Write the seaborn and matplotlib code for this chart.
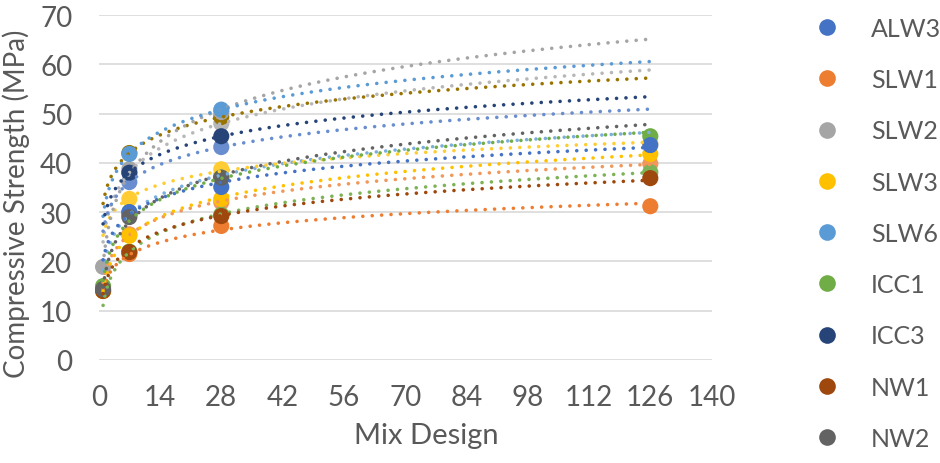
import numpy as np
import pandas as pd
import matplotlib
matplotlib.use("Agg")
import matplotlib.pyplot as plt
import seaborn as sns
from matplotlib.lines import Line2D

# ---- data (age in days -> compressive strength, MPa) ----
days = [1, 7, 28, 126]

ALW3 = [None, 30.0, 35.1, 43.6]
SLW1 = [14.0, 21.5, 27.2, 31.2]
SLW2 = [18.9, 38.7, 50.3, None]
SLW3 = [14.0, 25.2, 32.7, 41.8]
SLW6 = [None, 41.8, 50.8, None]
ICC1 = [15.0, 30.0, 37.0, 45.4]
ICC3 = [None, 38.0, 45.4, None]
NW1 = [14.0, 21.9, 29.2, 36.9]
NW2 = [14.4, 29.0, 37.0, None]

# further series plotted in the chart but not listed in its legend
EXTRA_A = [None, 38.0, 48.0, None]
EXTRA_B = [None, 42.0, 49.3, None]
EXTRA_C = [None, 36.1, 43.2, None]
EXTRA_D = [None, 29.5, 37.5, None]
EXTRA_E = [None, 32.7, 38.7, 44.0]
EXTRA_F = [None, 25.5, 32.0, 39.8]
EXTRA_G = [None, 22.0, 29.5, 38.1]

legend_names = ["ALW3", "SLW1", "SLW2", "SLW3", "SLW6", "ICC1", "ICC3", "NW1", "NW2"]
legend_values = [ALW3, SLW1, SLW2, SLW3, SLW6, ICC1, ICC3, NW1, NW2]
legend_colors = ["#4472C4", "#ED7D31", "#A5A5A5", "#FFC000", "#5B9BD5",
                 "#70AD47", "#264478", "#9E480E", "#636363"]

extra_names = ["A", "B", "C", "D", "E", "F", "G"]
extra_values = [EXTRA_A, EXTRA_B, EXTRA_C, EXTRA_D, EXTRA_E, EXTRA_F, EXTRA_G]
extra_colors = ["#B7B7B7", "#997300", "#698ED0", "#7CAFDD", "#FFCD33", "#F1975A", "#7DB356"]

x_ticks = [0, 14, 28, 42, 56, 70, 84, 98, 112, 126, 140]
y_ticks = [0, 10, 20, 30, 40, 50, 60, 70]

# ---- style ----
sns.set_theme(style="white")
plt.rcParams['font.family'] = ['Lato', 'DejaVu Sans']
TXT = "#595959"

fig = plt.figure(figsize=(9.4, 4.64), dpi=100)
ax = fig.add_axes([0.105, 0.222, 0.652, 0.7435])

all_names = extra_names + legend_names
all_values = extra_values + legend_values
all_colors = extra_colors + legend_colors
palette = dict(zip(all_names, all_colors))

draw_order = extra_names + ["SLW1", "SLW2", "SLW3", "SLW6", "ICC1", "ICC3", "NW1", "ALW3", "NW2"]
lookup = dict(zip(all_names, all_values))

rows = []
for name in draw_order:
    for d, v in zip(days, lookup[name]):
        if v is not None:
            rows.append({"day": d, "value": v, "series": name})
df = pd.DataFrame(rows)

sns.scatterplot(data=df, x="day", y="value", hue="series", palette=palette,
                s=135, linewidth=0, legend=False, ax=ax, zorder=2, clip_on=False)

# logarithmic trendlines, forecast to the last age
xs = np.linspace(1, 126, 400)
for name in all_names:
    vals = lookup[name]
    xd = np.array([d for d, v in zip(days, vals) if v is not None], float)
    yd = np.array([v for v in vals if v is not None], float)
    a, b = np.polyfit(np.log(xd), yd, 1)
    ax.plot(xs, a * np.log(xs) + b, color=palette[name], lw=2.6,
            ls=(0, (0.01, 2.6)), dash_capstyle="round", zorder=3)

ax.set_xlim(0, 140)
ax.set_ylim(0, 70)
ax.set_xticks(x_ticks)
ax.set_yticks(y_ticks)
ax.grid(axis="y", color="#D9D9D9", lw=1.2)
ax.grid(axis="x", visible=False)
for s in ax.spines.values():
    s.set_visible(False)
ax.tick_params(axis="both", length=0, labelsize=20, labelcolor=TXT)
ax.tick_params(axis="y", pad=19)
ax.tick_params(axis="x", pad=17)

ax.set_xlabel("Mix Design", fontsize=21, color=TXT)
ax.set_ylabel("Compressive Strength (MPa)", fontsize=20, color=TXT)
ax.xaxis.set_label_coords(0.535, -0.18)
ax.yaxis.set_label_coords(-0.112, 0.455)

handles = [Line2D([0], [0], marker="o", ls="none", markersize=12,
                  markerfacecolor=c, markeredgewidth=0) for c in legend_colors]
fig.legend(handles, legend_names, loc="upper left", bbox_to_anchor=(0.861, 0.972),
           frameon=False, fontsize=18, labelcolor=TXT, labelspacing=1.13,
           handlelength=1.0, handletextpad=1.26, borderaxespad=0, borderpad=0.2)

fig.savefig("out.png", dpi=100)
